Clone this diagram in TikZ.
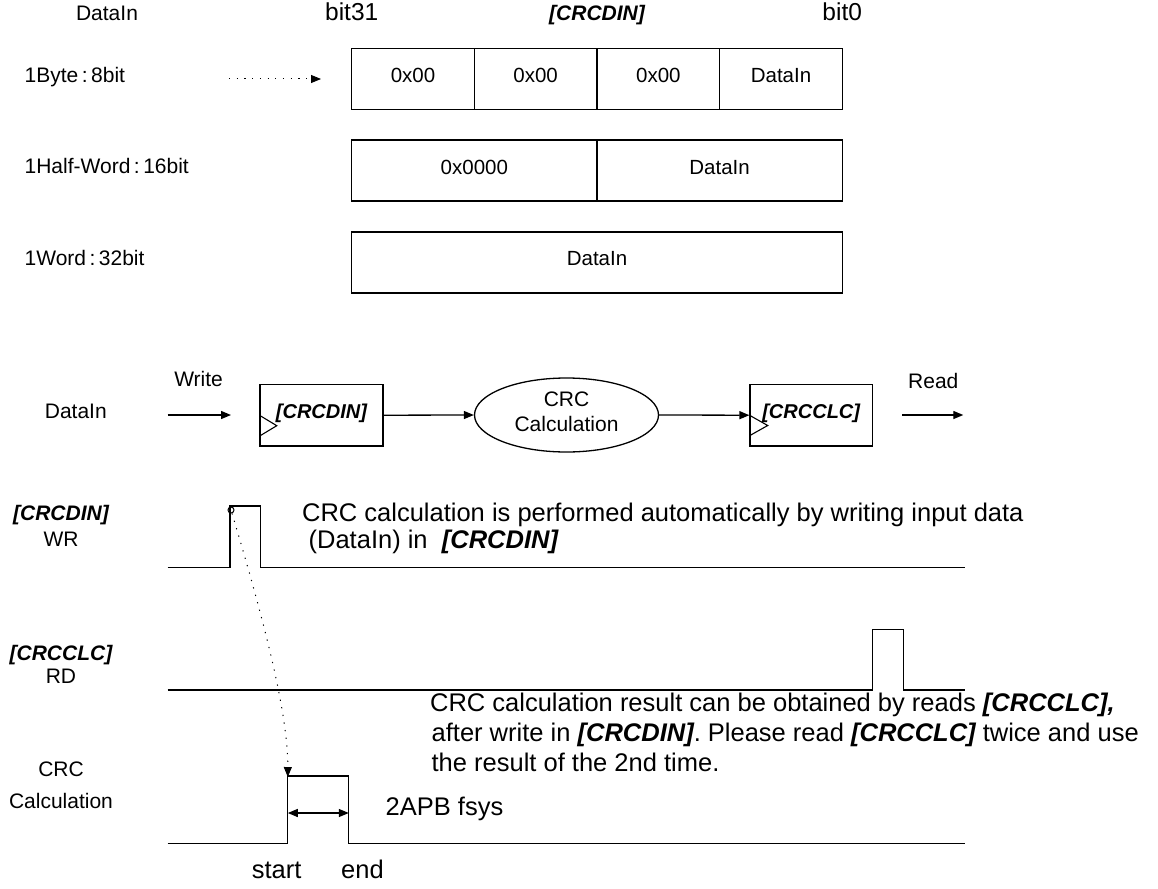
\documentclass[tikz,border=0pt]{standalone}
\usepackage{fontspec}
\setmainfont{Liberation Sans}
\usetikzlibrary{arrows.meta,shapes.geometric}
\newcommand{\bireg}[1]{{\bfseries\itshape #1}}
\begin{document}
\begin{tikzpicture}[x=1pt,y=-1pt,line width=1.3pt,
  lbl/.style={inner sep=0pt,text height=0.72em,text depth=0pt,font=\fontsize{21}{25}\selectfont},
  bitlbl/.style={inner sep=0pt,text height=0.72em,text depth=0pt,font=\fontsize{24.5}{28}\selectfont},
  reg/.style={inner sep=0pt,text height=0.72em,text depth=0pt,font=\fontsize{21}{25}\selectfont\bfseries\itshape},
  boxreg/.style={draw,inner sep=0pt,text height=0.72em,text depth=0pt,font=\fontsize{20}{24}\selectfont\bfseries\itshape,minimum height=61.7pt},
  note/.style={inner sep=0pt,anchor=west,text height=0.72em,text depth=0pt,font=\fontsize{25.5}{30}\selectfont},
  cell/.style={draw,inner sep=0pt,text height=0.72em,text depth=0pt,minimum height=61pt,font=\fontsize{20.5}{24}\selectfont},
  tip/.style={-{Triangle[length=10pt,width=8pt]}},
  dtip/.style={{Triangle[length=10pt,width=8pt]}-{Triangle[length=10pt,width=8pt]}},
  dots/.style={line width=1pt,dash pattern=on 1.2pt off 6.5pt},
  sig/.style={line width=1.3pt},
]
\useasboundingbox (0,0) rectangle (1158,888);

% ---------- top: register layout ----------
\node[lbl] (tdin) at (107,17) {DataIn};
\node[bitlbl] (b31) at (351.7,17) {bit31};
\node[reg] (treg) at (597,17) {[CRCDIN]};
\node[bitlbl] (b0) at (842.2,17) {bit0};

\node[lbl,anchor=west] (rbyte) at (24,79) {1Byte\,:\,8bit};
\node[lbl,anchor=west] (rhalf) at (24,170.3) {1Half-Word\,:\,16bit};
\node[lbl,anchor=west] (rword) at (24,262.3) {1Word\,:\,32bit};

\coordinate (da1) at (229,79);
\coordinate (da2) at (321,79);
\draw[dots,tip] (da1) -- (da2);

\node[cell,minimum width=122.6pt] (c1) at (413,78.8) {0x00};
\node[cell,minimum width=122.7pt] (c2) at (535.65,78.8) {0x00};
\node[cell,minimum width=122.8pt] (c3) at (658.4,78.8) {0x00};
\node[cell,minimum width=122.4pt] (c4) at (781,78.8) {DataIn};

\node[cell,minimum width=245.3pt] (h1) at (474.35,170.5) {0x0000};
\node[cell,minimum width=245.2pt] (h2) at (719.6,170.5) {DataIn};

\node[cell,minimum width=490.5pt] (w1) at (597,262.35) {DataIn};

% ---------- block diagram ----------
\node[lbl] (bdin) at (75.8,415) {DataIn};
\node[lbl] (bwr) at (198.6,383) {Write};
\coordinate (wa) at (167.6,415);
\coordinate (wb) at (231,415);
\draw[tip] (wa) -- (wb);

\node[boxreg,minimum width=123pt] (crcdin) at (321.5,415.2) {[CRCDIN]};
\draw[line width=1.1pt] (crcdin.west) -- ++(17.4,10.5) -- ++(-17.4,10.5);

\node[draw,ellipse,minimum width=184pt,minimum height=74pt,inner sep=0pt] (calc) at (566.5,415) {};
\node[lbl] (calct1) at (566.5,403) {CRC};
\node[lbl] (calct2) at (566.5,428) {Calculation};

\node[boxreg,minimum width=122.3pt] (crcclc) at (811.2,415.2) {[CRCCLC]};
\draw[line width=1.1pt] (crcclc.west) -- ++(18.3,10.3) -- ++(-18.3,10.3);

\draw[tip] (crcdin.east) -- (calc.west);
\draw[tip] (calc.east) -- (crcclc.west);

\node[lbl] (brd) at (933.3,385) {Read};
\coordinate (ra) at (902.3,415);
\coordinate (rb) at (963.3,415);
\draw[tip] (ra) -- (rb);

% ---------- timing: WR ----------
\node[reg] (lwr1) at (61,516.7) {[CRCDIN]};
\node[lbl] (lwr2) at (61,543.3) {WR};
\draw[sig] (167.6,567.7) -- (230,567.7) -- (230,506) -- (260.8,506) -- (260.8,567.7) -- (965,567.7);
\node[draw,circle,minimum size=6pt,inner sep=0pt,line width=1pt] (wrc) at (231,510) {};
\node[note] (n1a) at (301.5,518.3) {CRC calculation is performed automatically by writing input data};
\node[note] (n1b) at (308,545) {(DataIn) in~~\bireg{[CRCDIN]}};

% ---------- timing: RD ----------
\node[reg] (lrd1) at (61,656.7) {[CRCCLC]};
\node[lbl] (lrd2) at (61,680) {RD};
\draw[sig] (167.6,690) -- (872.7,690) -- (872.7,629.3) -- (903.2,629.3) -- (903.2,690) -- (965,690);
\node[note] (n2a) at (429.5,707.5) {CRC calculation result can be obtained by reads \bireg{[CRCCLC],}};
\node[note] (n2b) at (431,738) {after write in \bireg{[CRCDIN]}. Please read \bireg{[CRCCLC]} twice and use};
\node[note] (n2c) at (431,768) {the result of the 2nd time.};

% ---------- timing: CRC calculation ----------
\node[lbl] (lcr1) at (61,773) {CRC};
\node[lbl] (lcr2) at (61,805) {Calculation};
\draw[sig] (167.6,843.3) -- (287.8,843.3) -- (287.8,776) -- (348.8,776) -- (348.8,843.3) -- (965,843.3);
\coordinate (cs) at (287.8,777);
\coordinate (da) at (287.8,813);
\coordinate (db) at (348.8,813);
\draw[dtip] (da) -- (db);
\node[note] (t2apb) at (385,812) {2APB fsys};
\node[note,anchor=center] (tstart) at (276.7,875) {start};
\node[note,anchor=center] (tend) at (362.5,875) {end};

\draw[dots,tip] (wrc) .. controls (270,640) and (288,720) .. (cs);
\end{tikzpicture}
\end{document}
